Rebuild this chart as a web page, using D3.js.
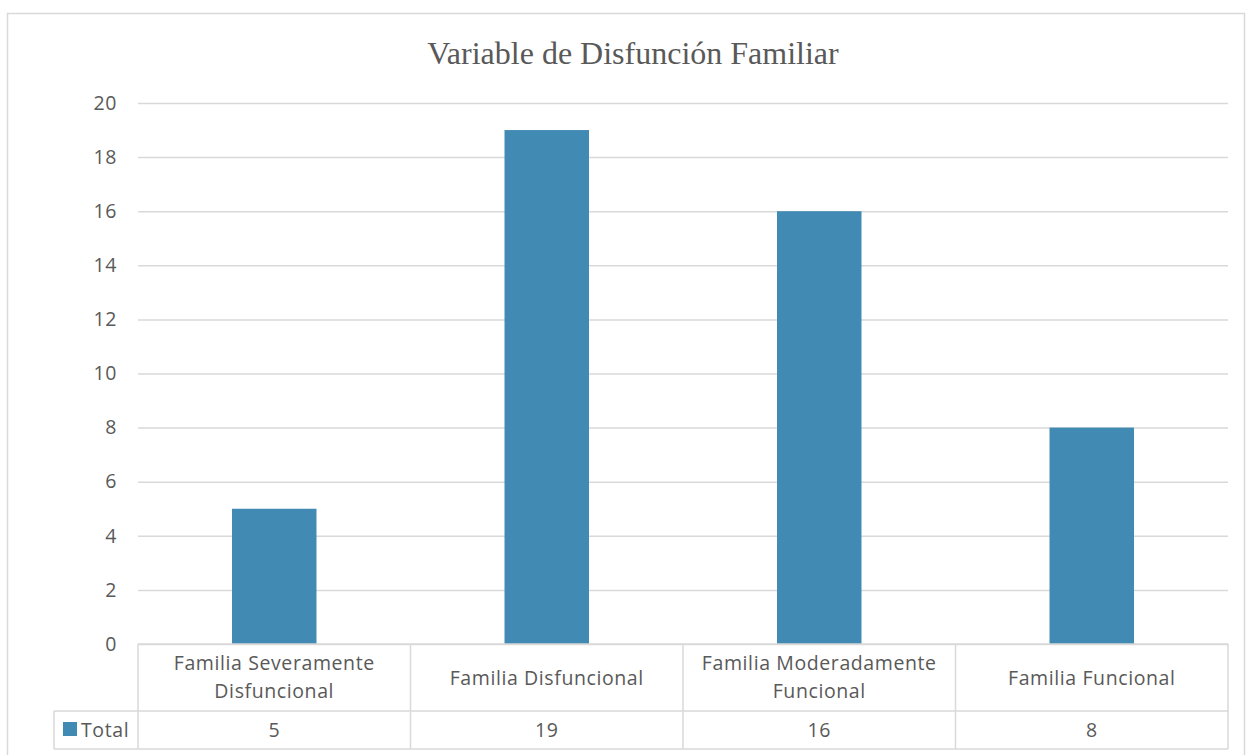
<!DOCTYPE html>
<html>
<head>
<meta charset="utf-8">
<script src="https://cdn.jsdelivr.net/npm/d3@7"></script>
<style>
  body { margin: 0; background: #fff; }
  text { fill: #595959; }
</style>
</head>
<body>
<div id="chart"></div>
<script>
// datos del gráfico
const categories = [
  ['Familia Severamente', 'Disfuncional'],
  ['Familia Disfuncional'],
  ['Familia Moderadamente', 'Funcional'],
  ['Familia Funcional']
];
const totals = [5, 19, 16, 8];
const yTicks = [0, 2, 4, 6, 8, 10, 12, 14, 16, 18, 20];
const seriesName = 'Total';
const title = 'Variable de Disfunción Familiar';

const width = 1246, height = 755;
const grid = '#d9d9d9';
const barColor = '#418ab3';
const sansFont = '"Open Sans", sans-serif';
const fs = 19.5, ls = 0.6;

const svg = d3.select('#chart').append('svg')
  .attr('width', width)
  .attr('height', height);

// marco exterior
svg.append('rect')
  .attr('x', 7.5).attr('y', 13.5)
  .attr('width', 1237).attr('height', 760)
  .attr('fill', '#fff')
  .attr('stroke', grid)
  .attr('stroke-width', 1.5);

const x = d3.scaleBand()
  .domain(d3.range(categories.length))
  .range([138, 1228]);
const y = d3.scaleLinear().domain([0, 20]).range([644, 103]);

// título
svg.append('text')
  .attr('x', 633).attr('y', 64)
  .attr('text-anchor', 'middle')
  .attr('font-family', '"Liberation Serif", "Times New Roman", serif')
  .attr('font-size', 32)
  .text(title);

// líneas de cuadrícula y etiquetas del eje Y
const yAxis = d3.axisLeft(y).tickValues(yTicks).tickSize(-(1228 - 138)).tickPadding(21);
const gy = svg.append('g').attr('transform', 'translate(138,0)').call(yAxis);
gy.select('.domain').remove();
gy.selectAll('.tick line').attr('stroke', grid).attr('stroke-width', 1.5);
gy.selectAll('.tick text')
  .attr('font-family', sansFont)
  .attr('font-size', fs)
  .attr('letter-spacing', ls)
  .attr('fill', '#595959');

// barras
const barW = x.bandwidth() * 0.31;
svg.selectAll('.bar')
  .data(totals)
  .enter()
  .append('rect')
  .attr('class', 'bar')
  .attr('x', (d, i) => x(i) + (x.bandwidth() - barW) / 2)
  .attr('y', d => y(d))
  .attr('width', barW)
  .attr('height', d => y(0) - y(d))
  .attr('fill', barColor);

// tabla de datos
const row1Top = y(0), row2Top = 711, row2Bot = 749;
const tbl = svg.append('g')
  .attr('stroke', grid)
  .attr('stroke-width', 1.5);
tbl.append('line').attr('x1', 138).attr('x2', 1228).attr('y1', row1Top).attr('y2', row1Top);
tbl.append('line').attr('x1', 54).attr('x2', 1228).attr('y1', row2Top).attr('y2', row2Top);
tbl.append('line').attr('x1', 54).attr('x2', 1228).attr('y1', row2Bot).attr('y2', row2Bot);
tbl.append('line').attr('x1', 54).attr('x2', 54).attr('y1', row2Top).attr('y2', row2Bot);
tbl.selectAll('.vline')
  .data(d3.range(categories.length + 1))
  .enter()
  .append('line')
  .attr('x1', i => i < categories.length ? x(i) : x.range()[1])
  .attr('x2', i => i < categories.length ? x(i) : x.range()[1])
  .attr('y1', row1Top)
  .attr('y2', row2Bot);

// nombres de categoría
const catText = svg.selectAll('.cat')
  .data(categories)
  .enter()
  .append('text')
  .attr('class', 'cat')
  .attr('text-anchor', 'middle')
  .attr('font-family', sansFont)
  .attr('font-size', fs)
  .attr('letter-spacing', ls)
  .attr('x', (d, i) => x(i) + x.bandwidth() / 2)
  .attr('y', d => d.length > 1 ? 670 : 685);
catText.selectAll('tspan')
  .data(d => d)
  .enter()
  .append('tspan')
  .attr('x', function() { return this.parentNode.getAttribute('x'); })
  .attr('dy', (d, i) => i === 0 ? 0 : 28)
  .text(d => d);

// valores
svg.selectAll('.val')
  .data(totals)
  .enter()
  .append('text')
  .attr('text-anchor', 'middle')
  .attr('font-family', sansFont)
  .attr('font-size', fs)
  .attr('letter-spacing', ls)
  .attr('x', (d, i) => x(i) + x.bandwidth() / 2)
  .attr('y', 737)
  .text(d => d);

// leyenda
svg.append('rect')
  .attr('x', 63).attr('y', 722)
  .attr('width', 14).attr('height', 14)
  .attr('fill', barColor);
svg.append('text')
  .attr('x', 81).attr('y', 737)
  .attr('font-family', sansFont)
  .attr('font-size', fs)
  .attr('letter-spacing', ls)
  .text(seriesName);
</script>
</body>
</html>
